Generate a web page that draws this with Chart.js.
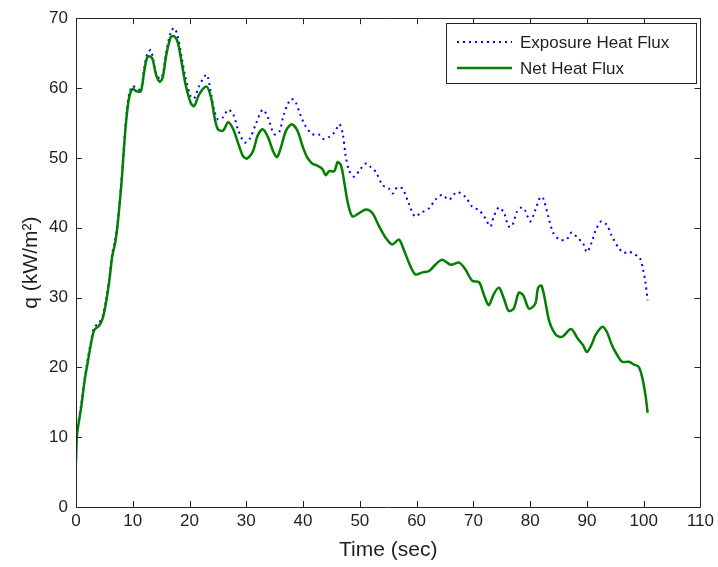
<!DOCTYPE html>
<html><head><meta charset="utf-8">
<script src="https://cdn.jsdelivr.net/npm/chart.js@4.4.0/dist/chart.umd.min.js"></script>
<style>html,body{margin:0;padding:0;background:#fff;}#wrap{width:718px;height:567px;}</style>
</head><body><div id="wrap"><canvas id="c" width="718" height="567"></canvas></div>
<script>
const seriesNames = ['Exposure Heat Flux', 'Net Heat Flux'];
const xTicks = [0, 10, 20, 30, 40, 50, 60, 70, 80, 90, 100, 110];
const yTicks = [0, 10, 20, 30, 40, 50, 60, 70];

const expTime = [0,0.2,0.9,1.5,2.0,2.6,3.2,4.1,4.7,5.3,
 5.9,6.4,6.9,7.3,7.7,8.1,8.5,8.9,9.4,10.0,
 10.5,11.4,12.0,12.6,13.2,14.1,14.8,15.3,15.9,16.7,
 17.3,17.9,18.6,19.3,20.2,20.8,21.7,23.0,23.8,24.4,
 25.0,25.9,26.8,27.7,28.6,29.7,30.6,31.8,32.9,33.8,
 34.9,35.8,36.6,37.8,38.6,39.5,40.4,41.6,42.7,43.6,
 44.6,45.5,46.4,47.0,47.5,48.1,49.0,50.1,51.1,51.9,
 52.8,54.0,55.1,55.8,56.6,57.5,58.6,59.7,60.7,62.2,
 63.3,64.5,65.7,67.1,68.6,69.8,71.0,71.9,73.0,73.6,
 74.5,75.4,76.2,76.8,77.7,78.5,79.1,80.0,80.9,81.8,
 82.3,83.2,84.1,85.2,86.4,87.3,88.4,89.3,90.0,90.8,
 91.5,92.5,93.5,94.4,95.6,96.5,97.4,98.3,99.3,99.9,
 100.3,100.7];
const expFlux = [9.0,11,14.6,18.4,20.8,23.6,25.7,26.4,27.4,29.7,
 33,36.4,38.2,40.6,43.9,47.7,52.4,56.3,59.3,60.3,
 60.0,59.8,62.8,65.0,65.4,62.1,61.3,62.0,65.2,68.0,
 68.6,67.5,64.5,61.5,58.8,58.5,60.3,61.9,59.1,56.7,
 55.5,55.8,56.9,56.2,53.9,52.2,52.7,55.1,56.9,55.8,
 53.4,53.7,56.2,58.4,58.1,56.2,54.6,53.4,53.4,52.7,
 53,53.6,54.8,53.4,50.3,48.2,47.3,48.4,49.2,48.7,
 48,46.1,45.6,44.9,45.8,45.6,43.5,41.6,42.1,42.8,
 44,44.7,44,45.1,44.4,43,42.5,41.6,40.2,41.6,
 42.9,42.1,40.2,40.2,42.3,42.9,42.5,40.9,42.5,44.4,
 44.2,41.6,39.2,38.3,38.3,39.3,38.5,37.8,36.5,37.8,
 39.5,40.9,40.4,38.8,37.1,36.4,36.6,36.2,35.7,34,
 32.2,29.6];

const netTime = [0,0.2,0.9,1.5,2.0,2.6,3.2,4.1,4.7,5.3,
 5.9,6.4,6.9,7.3,7.7,8.1,8.5,8.9,9.4,10.0,
 10.5,11.4,12.0,12.6,13.4,14.1,14.8,15.3,15.9,16.7,
 17.3,17.9,18.6,19.3,20.2,20.8,21.7,23.0,23.8,24.4,
 25.0,25.9,26.8,27.7,28.6,29.4,30.1,31.2,32.0,32.9,
 33.8,34.7,35.4,36.1,37.0,38.0,39.0,39.9,40.7,41.6,
 42.5,43.4,44.0,44.6,45.5,46.1,46.7,47.3,47.9,48.7,
 49.9,51.1,52.2,53.4,54.6,55.7,56.9,57.7,58.9,59.8,
 61.0,62.2,63.3,64.5,66.0,67.5,68.6,69.8,71.0,71.9,
 72.7,73.6,74.5,75.4,76.2,77.1,78.0,78.8,79.8,80.9,
 81.4,82.0,82.7,83.4,84.6,85.7,87.2,88.4,89.3,90.0,
 90.9,91.5,92.7,93.5,94.4,95.3,96.2,97.4,98.3,99.1,
 99.7,100.3,100.7];
const netFlux = [6.5,10.5,14.2,18,20.4,23.2,25.3,26,27,29.3,
 32.6,36,37.8,40.2,43.5,47.3,52,55.8,58.8,59.9,
 59.6,59.5,62.3,64.5,64.3,61.9,60.9,61.6,64.7,67.3,
 67.4,66.6,63.7,60.5,57.9,57.4,59.1,60.2,58.6,55.8,
 54.1,53.9,55.1,54.1,52,50.3,49.9,51,53.2,54.1,
 53,51,50.1,51.5,53.9,54.8,53.9,51.7,50.1,49.2,
 48.9,48.4,47.5,48.1,48.1,49.4,48.9,46.3,43.5,41.6,
 42.1,42.6,42.1,40.2,38.5,37.6,38.3,36.9,34.5,33.3,
 33.6,33.8,34.7,35.4,34.7,35,34,32.4,32.2,30.3,
 28.9,30.5,31.4,29.8,28.1,28.4,30.7,30.3,28.4,29.1,
 31.4,31.7,29.3,26.5,24.6,24.4,25.5,24.1,23.2,22.2,
 23.4,24.6,25.8,25.1,23.2,21.8,20.8,20.8,20.4,20.1,
 18.7,16.1,13.5];

const FONT = '"Liberation Sans", Arial, sans-serif';
const TEXT = '#1e1e24';
const AXIS = '#262626';
const BLUE = '#0000ff';
const GREEN = '#008000';

const toPts = (ts, vs) => ts.map((t, i) => ({x: t, y: vs[i]}));

const framePlugin = {
  id: 'frame',
  afterDatasetsDraw(chart) {
    const {ctx, chartArea: a, scales} = chart;
    ctx.save();
    ctx.strokeStyle = AXIS;
    ctx.lineWidth = 1;
    ctx.beginPath();
    ctx.rect(Math.round(a.left) + 0.5, Math.round(a.top) + 0.5, Math.round(a.right - a.left), Math.round(a.bottom - a.top));
    ctx.stroke();
    const L = 6;
    ctx.beginPath();
    xTicks.forEach(v => {
      const px = Math.round(scales.x.getPixelForValue(v)) + 0.5;
      ctx.moveTo(px, a.bottom); ctx.lineTo(px, a.bottom - L);
      ctx.moveTo(px, a.top); ctx.lineTo(px, a.top + L);
    });
    yTicks.forEach(v => {
      const py = Math.round(scales.y.getPixelForValue(v)) + 0.5;
      ctx.moveTo(a.left, py); ctx.lineTo(a.left + L, py);
      ctx.moveTo(a.right, py); ctx.lineTo(a.right - L, py);
    });
    ctx.stroke();

    // legend box
    const bx = 446.5, by = 23.5, bw = 250, bh = 60;
    ctx.fillStyle = '#fff';
    ctx.fillRect(bx, by, bw, bh);
    ctx.strokeStyle = AXIS;
    ctx.strokeRect(bx, by, bw, bh);
    const rows = [{y: 42, color: BLUE, dash: [2, 4], w: 2}, {y: 68, color: GREEN, dash: [], w: 2.5}];
    ctx.font = '17px ' + FONT;
    ctx.textBaseline = 'middle';
    ctx.textAlign = 'left';
    rows.forEach((r, i) => {
      ctx.beginPath();
      ctx.strokeStyle = r.color;
      ctx.lineWidth = r.w;
      ctx.setLineDash(r.dash);
      ctx.moveTo(457, r.y); ctx.lineTo(512, r.y);
      ctx.stroke();
      ctx.setLineDash([]);
      ctx.fillStyle = TEXT;
      ctx.fillText(seriesNames[i], 520, r.y + 1);
    });
    ctx.restore();
  }
};

new Chart(document.getElementById('c'), {
  type: 'line',
  data: {
    datasets: [
      {label: seriesNames[0], data: toPts(expTime, expFlux), borderColor: BLUE, borderWidth: 2,
       borderDash: [2, 4], pointRadius: 0, tension: 0.3, fill: false, order: 1},
      {label: seriesNames[1], data: toPts(netTime, netFlux), borderColor: GREEN, borderWidth: 2.5,
       pointRadius: 0, tension: 0.3, fill: false, order: 0}
    ]
  },
  options: {
    responsive: false,
    animation: false,
    devicePixelRatio: 1,
    layout: {padding: {top: 13, right: 16, left: 0, bottom: 0}},
    plugins: {legend: {display: false}, tooltip: {enabled: false}},
    scales: {
      x: {
        type: 'linear', min: 0, max: 110,
        afterBuildTicks: s => { s.ticks = xTicks.map(v => ({value: v})); },
        afterFit: s => { s.height = 60; },
        grid: {display: false, drawTicks: false},
        border: {display: false},
        ticks: {font: {family: FONT, size: 17}, color: TEXT, padding: 4, maxRotation: 0},
        title: {display: true, text: 'Time (sec)', font: {family: FONT, size: 21}, color: TEXT, padding: {top: 0, bottom: 4}}
      },
      y: {
        type: 'linear', min: 0, max: 70,
        afterBuildTicks: s => { s.ticks = yTicks.map(v => ({value: v})); },
        afterFit: s => { s.width = 76; },
        grid: {display: false, drawTicks: false},
        border: {display: false},
        ticks: {font: {family: FONT, size: 17}, color: TEXT, padding: 8},
        title: {display: true, text: 'q (kW/m²)', font: {family: FONT, size: 21}, color: TEXT, padding: {top: 19, bottom: 0}}
      }
    }
  },
  plugins: [framePlugin]
});
</script></body></html>
